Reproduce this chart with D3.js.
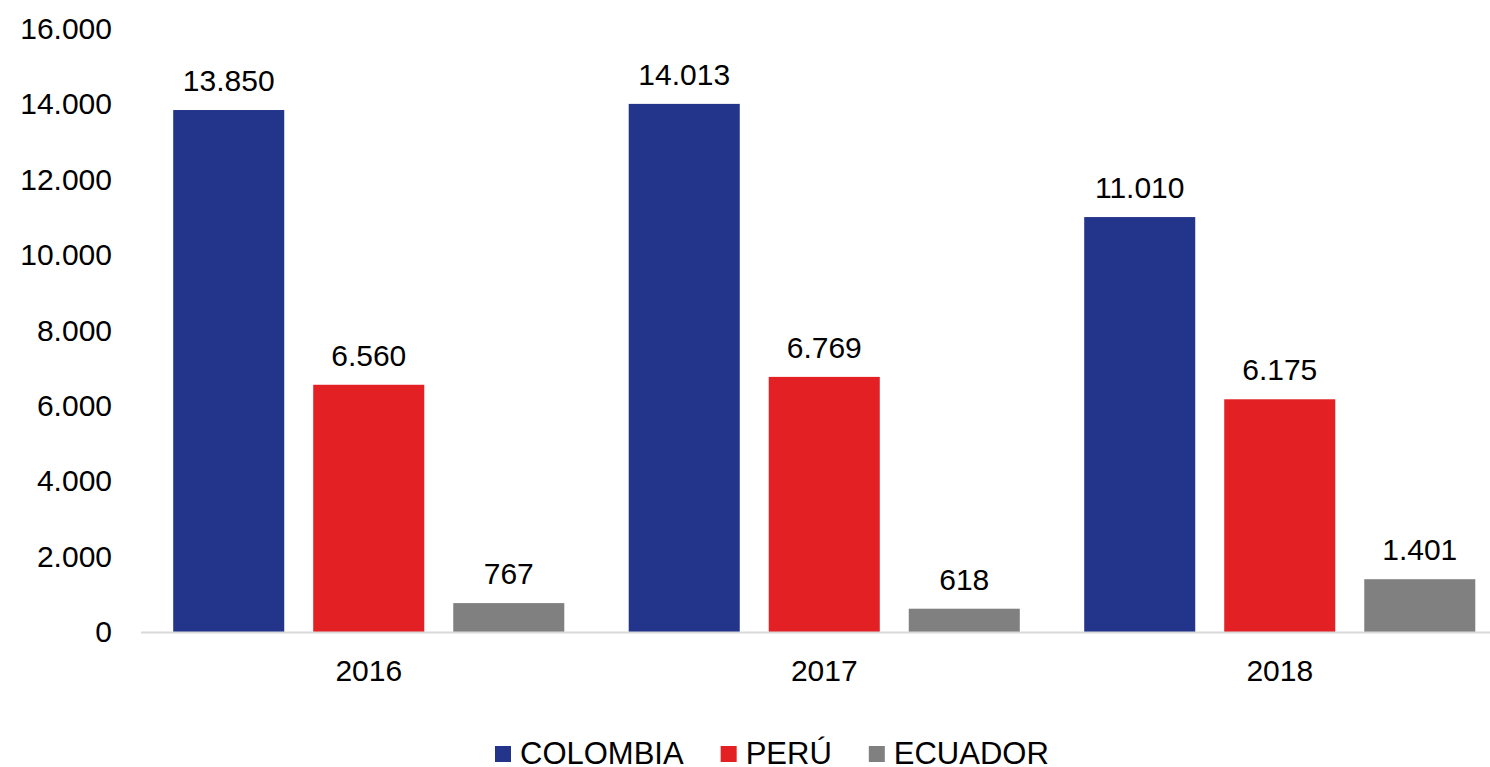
<!DOCTYPE html>
<html>
<head>
<meta charset="utf-8">
<script src="https://cdn.jsdelivr.net/npm/d3@7"></script>
<style>
	body { margin: 0; background: #fff; }
	text { font-family: 'Liberation Sans', Arial, sans-serif; fill: #000; }
</style>
</head>
<body>
<div id="chart"></div>
<script>
var years = ['2016', '2017', '2018'];
var seriesNames = ['COLOMBIA', 'PERÚ', 'ECUADOR'];
var colombia = [13850, 14013, 11010];
var peru = [6560, 6769, 6175];
var ecuador = [767, 618, 1401];
var yTicks = [0, 2000, 4000, 6000, 8000, 10000, 12000, 14000, 16000];
var colors = ['#22358a', '#e32024', '#808080'];

var width = 1490;
var height = 767;
var plotLeft = 141;
var plotRight = 1507.5;
var plotTop = 29;
var plotBottom = 632;

var data = years.map(function(y, i) {
	return { year: y, values: [colombia[i], peru[i], ecuador[i]] };
});

var fmt = function(v) {
	return d3.format(',')(v).replace(/,/g, '.');
};

var svg = d3
	.select('#chart')
	.append('svg')
	.attr('width', width)
	.attr('height', height);

/* Scales */
var x0 = d3.scaleBand().domain(years).range([plotLeft, plotRight]);
var x1 = d3
	.scaleBand()
	.domain(seriesNames)
	.range([0, x0.bandwidth()])
	.paddingInner(0.207)
	.paddingOuter(0.23);
var yScale = d3.scaleLinear().domain([0, 16000]).range([plotBottom, plotTop]);

/* Y axis labels */
var yAxis = d3
	.axisLeft(yScale)
	.tickValues(yTicks)
	.tickFormat(fmt)
	.tickSize(0)
	.tickPadding(0);

var yg = svg
	.append('g')
	.attr('transform', 'translate(112, 0)')
	.call(yAxis);
yg.select('.domain').remove();
yg.selectAll('text')
	.style('font-size', '30px')
	.attr('fill', '#000');

/* Bars */
var groups = svg
	.selectAll('.year')
	.data(data)
	.enter()
	.append('g')
	.attr('class', 'year')
	.attr('transform', d => `translate(${x0(d.year)}, 0)`);

groups
	.selectAll('rect')
	.data(d => d.values.map((v, i) => ({ name: seriesNames[i], value: v, i: i })))
	.enter()
	.append('rect')
	.attr('x', d => x1(d.name))
	.attr('y', d => yScale(d.value))
	.attr('width', x1.bandwidth())
	.attr('height', d => plotBottom - yScale(d.value))
	.attr('fill', d => colors[d.i]);

groups
	.selectAll('.val')
	.data(d => d.values.map((v, i) => ({ name: seriesNames[i], value: v })))
	.enter()
	.append('text')
	.attr('class', 'val')
	.attr('x', d => x1(d.name) + x1.bandwidth() / 2)
	.attr('y', d => yScale(d.value) - 19)
	.attr('text-anchor', 'middle')
	.style('font-size', '30px')
	.text(d => fmt(d.value));

/* X axis */
var xAxis = d3.axisBottom(x0).tickSize(0).tickPadding(0);
var xg = svg
	.append('g')
	.attr('transform', `translate(0, ${plotBottom})`)
	.call(xAxis);
xg.select('.domain').remove();
xg.selectAll('text')
	.attr('dy', null)
	.attr('y', 49)
	.style('font-size', '30px')
	.attr('fill', '#000');

svg
	.append('line')
	.attr('x1', plotLeft)
	.attr('x2', width)
	.attr('y1', plotBottom + 0.5)
	.attr('y2', plotBottom + 0.5)
	.attr('stroke', '#d9d9d9')
	.attr('stroke-width', 2);

/* Legend */
var legend = svg.append('g').attr('class', 'legend');
var lx = 495;
seriesNames.forEach(function(name, i) {
	legend
		.append('rect')
		.attr('x', lx)
		.attr('y', 746)
		.attr('width', 16)
		.attr('height', 16)
		.attr('fill', colors[i]);
	var t = legend
		.append('text')
		.attr('x', lx + 25)
		.attr('y', 764)
		.style('font-size', '31px')
		.text(name);
	lx += 25 + t.node().getComputedTextLength() + 37;
});
</script>
</body>
</html>
